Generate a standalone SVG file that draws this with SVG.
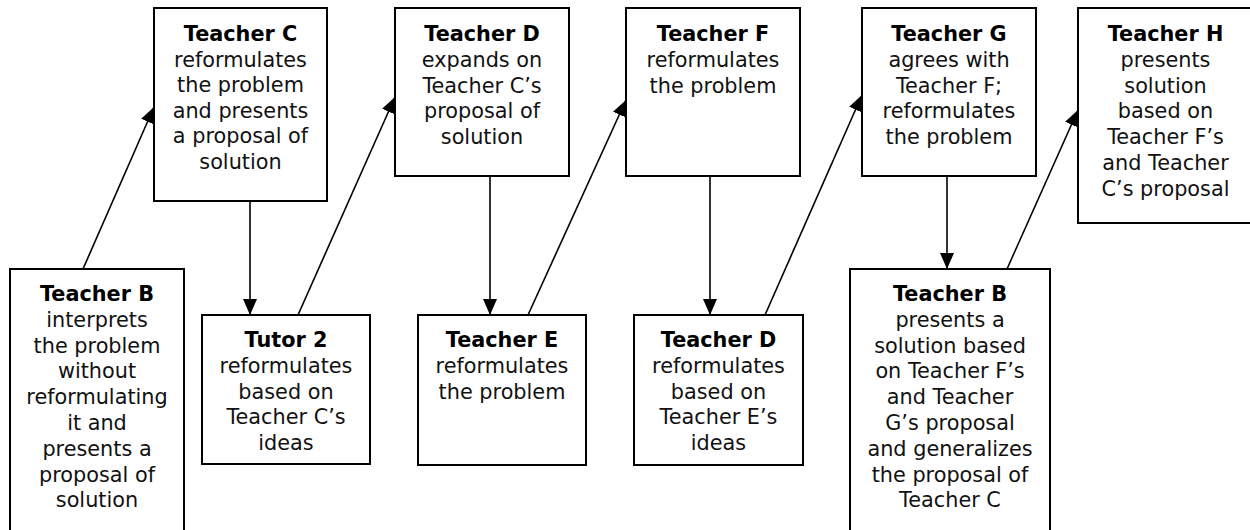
<svg xmlns="http://www.w3.org/2000/svg" width="1250" height="530" viewBox="0 0 1250 530">
<style>
.box{fill:#fff;stroke:#000;stroke-width:2}
.t{font-family:"DejaVu Sans",Verdana,sans-serif;font-size:20.8px;fill:#111;text-anchor:middle}
.b{font-weight:bold;fill:#000}
.c{stroke:#000;stroke-width:1.6;fill:none;marker-end:url(#ah)}
</style>
<defs>
<marker id="ah" markerUnits="userSpaceOnUse" markerWidth="17" markerHeight="15" refX="16" refY="7" orient="auto" viewBox="0 0 17 15">
<path d="M0,0 L16,7 L0,14 z" fill="#000"/>
</marker>
</defs>
<rect width="1250" height="530" fill="#fff"/>
<g id="connectors">
<line class="c" x1="83" y1="269" x2="154" y2="107"/>
<line class="c" x1="250" y1="201" x2="250" y2="315"/>
<line class="c" x1="298" y1="315" x2="395" y2="97"/>
<line class="c" x1="490" y1="176" x2="490" y2="315"/>
<line class="c" x1="528" y1="315" x2="626" y2="100"/>
<line class="c" x1="710" y1="176" x2="710" y2="315"/>
<line class="c" x1="765" y1="315" x2="862" y2="95"/>
<line class="c" x1="947" y1="176" x2="947" y2="269"/>
<line class="c" x1="1007" y1="269" x2="1078" y2="110"/>
</g>
<g id="teacherB1">
<rect class="box" x="10" y="269" width="174" height="275"/>
<text class="t" y="301"><tspan x="97" class="b">Teacher B</tspan><tspan x="97" dy="25.8">interprets</tspan><tspan x="97" dy="25.8">the problem</tspan><tspan x="97" dy="25.8">without</tspan><tspan x="97" dy="25.8">reformulating</tspan><tspan x="97" dy="25.8">it and</tspan><tspan x="97" dy="25.8">presents a</tspan><tspan x="97" dy="25.8">proposal of</tspan><tspan x="97" dy="25.8">solution</tspan></text>
</g>
<g id="teacherC">
<rect class="box" x="154" y="8" width="173" height="193"/>
<text class="t" y="41"><tspan x="240.5" class="b">Teacher C</tspan><tspan x="240.5" dy="25.6">reformulates</tspan><tspan x="240.5" dy="25.6">the problem</tspan><tspan x="240.5" dy="25.6">and presents</tspan><tspan x="240.5" dy="25.6">a proposal of</tspan><tspan x="240.5" dy="25.6">solution</tspan></text>
</g>
<g id="tutor2">
<rect class="box" x="202" y="315" width="168" height="149"/>
<text class="t" y="347"><tspan x="286" class="b">Tutor 2</tspan><tspan x="286" dy="25.8">reformulates</tspan><tspan x="286" dy="25.8">based on</tspan><tspan x="286" dy="25.8">Teacher C’s</tspan><tspan x="286" dy="25.8">ideas</tspan></text>
</g>
<g id="teacherD1">
<rect class="box" x="395" y="8" width="174" height="168"/>
<text class="t" y="41"><tspan x="482" class="b">Teacher D</tspan><tspan x="482" dy="25.8">expands on</tspan><tspan x="482" dy="25.8">Teacher C’s</tspan><tspan x="482" dy="25.8">proposal of</tspan><tspan x="482" dy="25.8">solution</tspan></text>
</g>
<g id="teacherE">
<rect class="box" x="418" y="315" width="168" height="150"/>
<text class="t" y="347"><tspan x="502" class="b">Teacher E</tspan><tspan x="502" dy="25.8">reformulates</tspan><tspan x="502" dy="25.8">the problem</tspan></text>
</g>
<g id="teacherF">
<rect class="box" x="626" y="8" width="174" height="168"/>
<text class="t" y="41"><tspan x="713" class="b">Teacher F</tspan><tspan x="713" dy="25.8">reformulates</tspan><tspan x="713" dy="25.8">the problem</tspan></text>
</g>
<g id="teacherD2">
<rect class="box" x="634" y="315" width="169" height="150"/>
<text class="t" y="347"><tspan x="718.5" class="b">Teacher D</tspan><tspan x="718.5" dy="25.8">reformulates</tspan><tspan x="718.5" dy="25.8">based on</tspan><tspan x="718.5" dy="25.8">Teacher E’s</tspan><tspan x="718.5" dy="25.8">ideas</tspan></text>
</g>
<g id="teacherG">
<rect class="box" x="862" y="8" width="174" height="168"/>
<text class="t" y="41"><tspan x="949" class="b">Teacher G</tspan><tspan x="949" dy="25.8">agrees with</tspan><tspan x="949" dy="25.8">Teacher F;</tspan><tspan x="949" dy="25.8">reformulates</tspan><tspan x="949" dy="25.8">the problem</tspan></text>
</g>
<g id="teacherB2">
<rect class="box" x="850" y="269" width="200" height="275"/>
<text class="t" y="301"><tspan x="950" class="b">Teacher B</tspan><tspan x="950" dy="25.8">presents a</tspan><tspan x="950" dy="25.8">solution based</tspan><tspan x="950" dy="25.8">on Teacher F’s</tspan><tspan x="950" dy="25.8">and Teacher</tspan><tspan x="950" dy="25.8">G’s proposal</tspan><tspan x="950" dy="25.8">and generalizes</tspan><tspan x="950" dy="25.8">the proposal of</tspan><tspan x="950" dy="25.8">Teacher C</tspan></text>
</g>
<g id="teacherH">
<rect class="box" x="1078" y="8" width="175" height="215"/>
<text class="t" y="41"><tspan x="1165.5" class="b">Teacher H</tspan><tspan x="1165.5" dy="25.8">presents</tspan><tspan x="1165.5" dy="25.8">solution</tspan><tspan x="1165.5" dy="25.8">based on</tspan><tspan x="1165.5" dy="25.8">Teacher F’s</tspan><tspan x="1165.5" dy="25.8">and Teacher</tspan><tspan x="1165.5" dy="25.8">C’s proposal</tspan></text>
</g>
</svg>
